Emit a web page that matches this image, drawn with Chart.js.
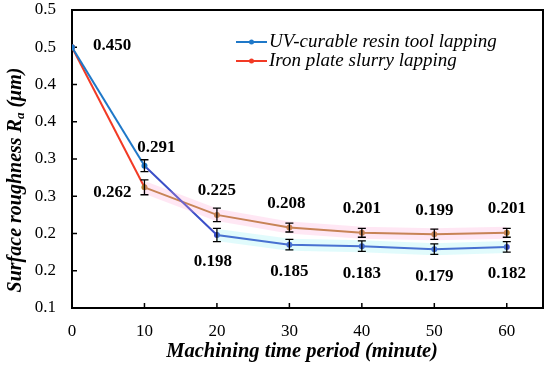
<!DOCTYPE html>
<html>
<head>
<meta charset="utf-8">
<script src="https://cdn.jsdelivr.net/npm/chart.js@4.4.0/dist/chart.umd.min.js"></script>
<style>
  html, body { margin: 0; padding: 0; background: #fff; }
  #wrap { width: 550px; height: 366px; }
</style>
</head>
<body>
<div id="wrap"><canvas id="myChart"></canvas></div>
<script>
// Surface roughness vs machining time
const times = [0, 10, 20, 30, 40, 50, 60];
const uvResin = [0.450, 0.291, 0.198, 0.185, 0.183, 0.179, 0.182];
const ironPlate = [0.450, 0.262, 0.225, 0.208, 0.201, 0.199, 0.201];
const uvErr = [0, 0.008, 0.009, 0.007, 0.007, 0.007, 0.007];
const ironErr = [0, 0.010, 0.009, 0.006, 0.006, 0.007, 0.006];
const seriesNames = ["UV-curable resin tool lapping", "Iron plate slurry lapping"];
const xTicks = [0, 10, 20, 30, 40, 50, 60];
const yTicks = [0.1, 0.15, 0.2, 0.25, 0.3, 0.35, 0.4, 0.45, 0.5];
const yTickLabels = ["0.1", "0.2", "0.2", "0.3", "0.3", "0.4", "0.4", "0.5", "0.5"];

const SERIF = "'Liberation Serif', 'Times New Roman', serif";
const blueA = "#1f78c8", blueB = "#3b4fc8";
const redA = "#f23a25", brownB = "#b47a2c";

const toPts = arr => arr.map((v, i) => ({ x: times[i], y: v }));
const bandPts = (arr, from) => arr.map((v, i) => ({ x: times[i], y: i >= from ? v : null }));

// draws frame, inward ticks, error bars, value labels, legend and axis titles
const decorPlugin = {
  id: "decor",
  beforeDatasetsDraw(chart) {
    const { ctx, chartArea: a, scales } = chart;
    ctx.save();
    ctx.strokeStyle = "#000";
    ctx.lineWidth = 1.5;
    yTicks.forEach(v => {
      const y = scales.y.getPixelForValue(v);
      ctx.beginPath(); ctx.moveTo(a.left, y); ctx.lineTo(a.left + 5, y); ctx.stroke();
    });
    xTicks.forEach(v => {
      const x = scales.x.getPixelForValue(v);
      ctx.beginPath(); ctx.moveTo(x, a.bottom); ctx.lineTo(x, a.bottom - 5); ctx.stroke();
    });
    ctx.lineWidth = 2;
    ctx.strokeRect(a.left, a.top, a.right - a.left, a.bottom - a.top);
    ctx.restore();
  },
  afterDatasetsDraw(chart) {
    const { ctx, scales } = chart;
    ctx.save();
    // error bars
    ctx.strokeStyle = "#000";
    ctx.lineWidth = 1.3;
    [[uvResin, uvErr], [ironPlate, ironErr]].forEach(([vals, errs]) => {
      vals.forEach((v, i) => {
        if (!errs[i]) return;
        const x = scales.x.getPixelForValue(times[i]);
        const y1 = scales.y.getPixelForValue(v + errs[i]);
        const y2 = scales.y.getPixelForValue(v - errs[i]);
        ctx.beginPath();
        ctx.moveTo(x, y1); ctx.lineTo(x, y2);
        ctx.moveTo(x - 4, y1); ctx.lineTo(x + 4, y1);
        ctx.moveTo(x - 4, y2); ctx.lineTo(x + 4, y2);
        ctx.stroke();
      });
    });

    // value labels
    ctx.fillStyle = "#000";
    ctx.font = "bold 17px " + SERIF;
    ctx.textAlign = "center";
    ctx.textBaseline = "middle";
    const uvMeta = chart.getDatasetMeta(2);
    const ironMeta = chart.getDatasetMeta(3);
    uvResin.forEach((v, i) => {
      const p = uvMeta.data[i];
      if (i === 0) ctx.fillText(v.toFixed(3), p.x + 40, p.y - 2);
      else if (i === 1) ctx.fillText(v.toFixed(3), p.x + 12, p.y - 18);
      else ctx.fillText(v.toFixed(3), p.x - (i === 2 ? 4 : 0), p.y + 27);
    });
    ironPlate.forEach((v, i) => {
      const p = ironMeta.data[i];
      if (i === 0) return;
      if (i === 1) ctx.fillText(v.toFixed(3), p.x - 32, p.y + 5);
      else ctx.fillText(v.toFixed(3), p.x - (i === 3 ? 3 : 0), p.y - 24);
    });

    // legend
    const legendItems = [[seriesNames[0], blueA], [seriesNames[1], redA]];
    ctx.font = "italic 19px " + SERIF;
    ctx.textAlign = "left";
    legendItems.forEach(([name, col], k) => {
      const y = 42 + k * 19;
      ctx.strokeStyle = col;
      ctx.lineWidth = 2;
      ctx.beginPath(); ctx.moveTo(236, y); ctx.lineTo(267, y); ctx.stroke();
      ctx.fillStyle = col;
      ctx.beginPath(); ctx.arc(251.5, y, 2.5, 0, Math.PI * 2); ctx.fill();
      ctx.fillStyle = "#000";
      ctx.fillText(name, 269, y);
    });

    // x title
    ctx.font = "bold italic 20.5px " + SERIF;
    ctx.textAlign = "center";
    ctx.fillText("Machining time period (minute)", 302, 352);

    // y title with subscript
    ctx.translate(16, 180);
    ctx.rotate(-Math.PI / 2);
    const big = "bold italic 20px " + SERIF, small = "bold italic 13px " + SERIF;
    const p1 = "Surface roughness R", p2 = "a", p3 = " (\u03bcm)";
    ctx.font = big; const w1 = ctx.measureText(p1).width, w3 = ctx.measureText(p3).width;
    ctx.font = small; const w2 = ctx.measureText(p2).width;
    let sx = -(w1 + w2 + w3) / 2;
    ctx.textAlign = "left";
    ctx.font = big; ctx.fillText(p1, sx, 0); sx += w1;
    ctx.font = small; ctx.fillText(p2, sx, 5); sx += w2;
    ctx.font = big; ctx.fillText(p3, sx, 0);
    ctx.restore();
  }
};

new Chart("myChart", {
  type: "line",
  data: {
    datasets: [
      {
        label: "uv band",
        data: bandPts(uvResin, 2),
        borderColor: "rgba(120, 235, 240, 0.22)",
        borderWidth: 12,
        pointRadius: 0,
        spanGaps: false
      },
      {
        label: "iron band",
        data: bandPts(ironPlate, 1),
        borderColor: "rgba(255, 160, 210, 0.25)",
        borderWidth: 12,
        pointRadius: 0,
        spanGaps: false
      },
      {
        label: seriesNames[0],
        data: toPts(uvResin),
        borderColor: blueA,
        backgroundColor: blueB,
        pointBackgroundColor: uvResin.map((v, i) => i < 2 ? blueA : blueB),
        pointBorderWidth: 0,
        pointRadius: 3,
        borderWidth: 2,
        segment: { borderColor: c => c.p0DataIndex === 0 ? blueA : blueB }
      },
      {
        label: seriesNames[1],
        data: toPts(ironPlate),
        borderColor: redA,
        backgroundColor: brownB,
        pointBackgroundColor: ironPlate.map((v, i) => i === 0 ? redA : brownB),
        pointBorderWidth: 0,
        pointRadius: 3,
        borderWidth: 2,
        segment: { borderColor: c => c.p0DataIndex === 0 ? redA : brownB }
      }
    ]
  },
  options: {
    responsive: true,
    maintainAspectRatio: false,
    animation: false,
    layout: { padding: { top: 10, right: 7, left: 0, bottom: 0 } },
    plugins: {
      legend: { display: false },
      tooltip: { enabled: false }
    },
    scales: {
      x: {
        type: "linear",
        min: 0,
        max: 65,
        afterBuildTicks: s => { s.ticks = xTicks.map(v => ({ value: v })); },
        afterFit: s => { s.height = 58; s.paddingLeft = 0; s.paddingRight = 0; },
        grid: { display: false, drawTicks: false },
        border: { display: false },
        ticks: { color: "#000", font: { family: SERIF, size: 17 }, padding: 13, maxRotation: 0 }
      },
      y: {
        min: 0.1,
        max: 0.5,
        afterBuildTicks: s => { s.ticks = yTicks.map(v => ({ value: v })); },
        afterFit: s => { s.width = 72; s.paddingTop = 0; s.paddingBottom = 0; },
        grid: { display: false, drawTicks: false },
        border: { display: false },
        ticks: {
          color: "#000",
          font: { family: SERIF, size: 17 },
          padding: 16,
          callback: (v, i) => yTickLabels[i]
        }
      }
    }
  },
  plugins: [decorPlugin]
});
</script>
</body>
</html>
